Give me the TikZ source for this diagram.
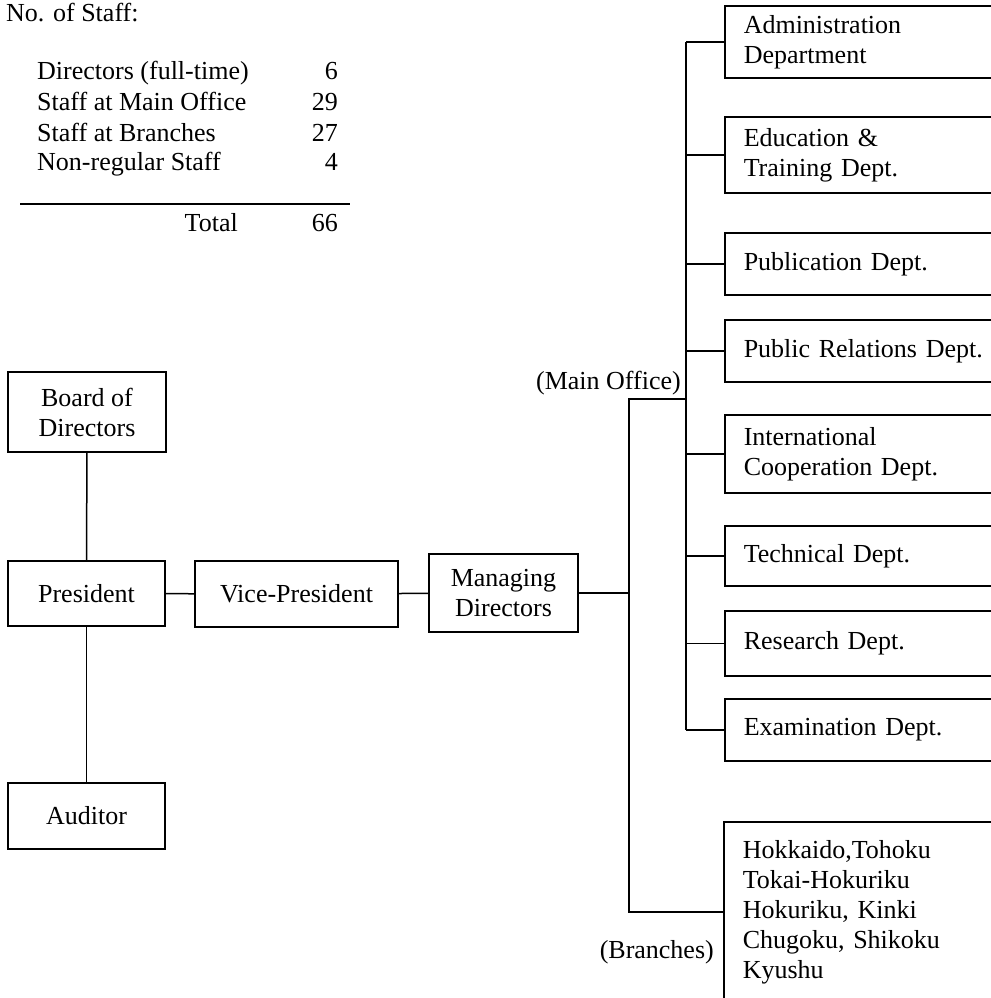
\documentclass[tikz,border=0pt]{standalone}
\usepackage{fontspec}
\setmainfont{Liberation Serif}
\begin{document}
\begin{tikzpicture}[x=1pt,y=-1pt,
  every node/.style={font=\fontsize{26}{30}\selectfont},
  box/.style={draw, line width=1.5pt, inner sep=0pt, align=center},
  dept/.style={draw, line width=1.5pt, anchor=west, minimum width=300pt,
    text width=262pt, inner xsep=19pt, inner ysep=0pt, align=left},
  conn/.style={line width=1.5pt},
  txt/.style={inner sep=0pt}]
\useasboundingbox (0,0) rectangle (990,998);

% staff table
\node[txt, anchor=base west] (ttl) at (6,22) {No. of Staff:};
\node[txt, anchor=base west] (r1) at (37,80) {Directors (full-time)};
\node[txt, anchor=base east] (n1) at (338,80) {6};
\node[txt, anchor=base west] (r2) at (37,110) {Staff at Main Office};
\node[txt, anchor=base east] (n2) at (338,110) {29};
\node[txt, anchor=base west] (r3) at (37,141) {Staff at Branches};
\node[txt, anchor=base east] (n3) at (338,141) {27};
\node[txt, anchor=base west] (r4) at (37,170) {Non-regular Staff};
\node[txt, anchor=base east] (n4) at (338,170) {4};
\draw[line width=1.2pt] (20,204) -- (350,204);
\node[txt, anchor=base east] (tot) at (238,231) {Total};
\node[txt, anchor=base east] (ntot) at (338,231) {66};

% left boxes
\node[box, minimum width=158pt, minimum height=80pt] (board) at (87,412) {Board of\\Directors};
\node[box, minimum width=157pt, minimum height=65pt] (pres) at (86.5,593.5) {President};
\node[box, minimum width=157pt, minimum height=66pt] (aud) at (86.5,816) {Auditor};
\node[box, minimum width=203pt, minimum height=66pt] (vp) at (296.5,594) {Vice-President};
\node[box, minimum width=149pt, minimum height=78pt] (md) at (503.5,593) {Managing\\Directors};

% departments
\node[dept, minimum height=72pt] (adm) at (724,42) {Administration\\Department};
\node[dept, minimum height=76pt] (edu) at (724,155) {Education \&\\Training Dept.};
\node[dept, minimum height=62pt] (pub) at (724,264) {Publication Dept.};
\node[dept, minimum height=62pt] (pr) at (724,351) {Public Relations Dept.};
\node[dept, minimum height=78pt] (intl) at (724,454) {International\\Cooperation Dept.};
\node[dept, minimum height=60pt] (tech) at (724,556) {Technical Dept.};
\node[dept, minimum height=65pt] (res) at (724,643.5) {Research Dept.};
\node[dept, minimum height=62pt] (exam) at (724,730) {Examination Dept.};
\node[dept, minimum height=180pt] (br) at (723,912) {Hokkaido,Tohoku\\Tokai-Hokuriku\\Hokuriku, Kinki\\Chugoku, Shikoku\\Kyushu};

% labels
\node[txt, anchor=east] (mol) at (681,383) {(Main Office)};
\node[txt, anchor=east] (brl) at (714,952) {(Branches)};

% connectors
\coordinate (bus) at (686,399);
\coordinate (brt) at (629,399);
\draw[conn] (board) -- (pres);
\draw[conn] (pres) -- (aud);
\draw[conn] (pres) -- (vp);
\draw[conn] (vp) -- (md);
\foreach \n in {adm,edu,pub,pr,intl,tech,res,exam}
  \draw[conn] (\n.west) -- (\n.west -| bus);
\draw[conn] (adm.west -| bus) -- (exam.west -| bus);
\draw[conn] (bus) -- (brt) -- (brt |- br.west) -- (br.west);
\draw[conn] (md.east) -- (md.east -| brt);
\end{tikzpicture}
\end{document}
